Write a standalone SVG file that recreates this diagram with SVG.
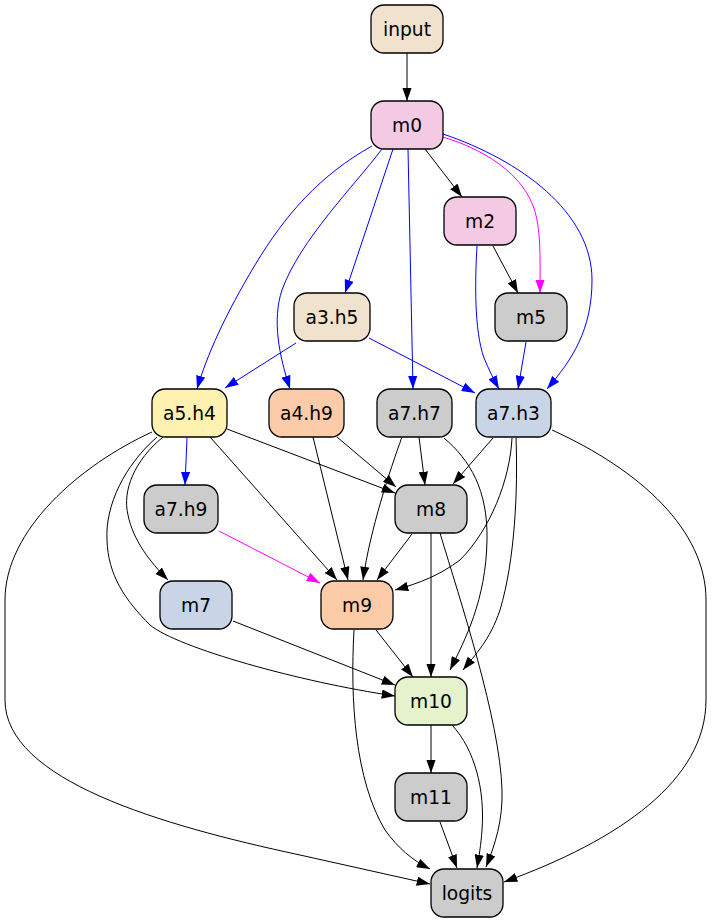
<svg xmlns="http://www.w3.org/2000/svg" width="712" height="923" viewBox="0 0 712 923">
<style>
.n rect{stroke:#000;stroke-width:1.3}
.n text{font-family:"DejaVu Sans",sans-serif;font-size:18.67px;text-anchor:middle;dominant-baseline:central;fill:#000}
.e path{fill:none;stroke-width:1}
.k{stroke:#000;marker-end:url(#ak)}
.b{stroke:#0000ff;marker-end:url(#ab)}
.m{stroke:#ff00ff;marker-end:url(#am)}
</style>
<defs>
<marker id="ak" viewBox="0 0 13.3 9.3" markerWidth="13.3" markerHeight="9.3" refX="13.3" refY="4.65" orient="auto" markerUnits="userSpaceOnUse"><path d="M0,0 L13.3,4.65 L0,9.3 z" fill="#000"/></marker>
<marker id="ab" viewBox="0 0 13.3 9.3" markerWidth="13.3" markerHeight="9.3" refX="13.3" refY="4.65" orient="auto" markerUnits="userSpaceOnUse"><path d="M0,0 L13.3,4.65 L0,9.3 z" fill="#0000ff"/></marker>
<marker id="am" viewBox="0 0 13.3 9.3" markerWidth="13.3" markerHeight="9.3" refX="13.3" refY="4.65" orient="auto" markerUnits="userSpaceOnUse"><path d="M0,0 L13.3,4.65 L0,9.3 z" fill="#ff00ff"/></marker>
</defs>
<rect width="712" height="923" fill="#fff"/>
<g id="edges" class="e">
<path class="k" d="M407,53 L407,101"/>
<path class="k" d="M425,149 L462,197"/>
<path class="m" d="M443,137 C492,152 530,180 537,220 C541,242 540,265 540,293"/>
<path class="b" d="M443,134 C520,160 592,212 592,280 C592,330 572,360 547,389"/>
<path class="b" d="M393,149 L345,293"/>
<path class="b" d="M408,149 L413,389"/>
<path class="b" d="M372,146 C320,175 285,215 255,265 C225,315 207,355 197,389"/>
<path class="b" d="M382,149 C355,185 300,240 282,290 C272,320 279,355 290,389"/>
<path class="k" d="M493,246 L518,293"/>
<path class="b" d="M477,246 C475,280 474,330 484,358 C489,370 494,380 499,389"/>
<path class="b" d="M526,342 L518,389"/>
<path class="b" d="M296,343 L225,388"/>
<path class="b" d="M369,338 L475,393"/>
<path class="b" d="M187,438 L185,485"/>
<path class="k" d="M227,429 L395,493"/>
<path class="k" d="M210,437 L337,580"/>
<path class="k" d="M163,437 C135,460 122,490 128,515 C133,540 150,562 168,580"/>
<path class="k" d="M157,437 C125,465 105,505 107,540 C108,575 125,600 150,625 C178,648 300,682 395,696"/>
<path class="k" d="M152,432 C80,465 5,530 5,600 L5,700 C5,780 160,825 300,855 L430,884"/>
<path class="k" d="M337,437 L396,487"/>
<path class="k" d="M313,437 L348,580"/>
<path class="k" d="M419,437 L425,485"/>
<path class="k" d="M402,437 C390,470 370,530 363,580"/>
<path class="k" d="M444,438 C470,460 488,490 487,540 C486,600 465,640 450,670"/>
<path class="k" d="M493,438 L453,484"/>
<path class="k" d="M512,438 C510,480 490,530 460,560 C440,575 420,583 395,590"/>
<path class="k" d="M516,438 C518,490 515,560 500,610 C490,640 475,655 463,670"/>
<path class="k" d="M552,430 C640,470 706,530 706,600 L706,700 C706,780 620,840 504,882"/>
<path class="m" d="M219,531 L320,583"/>
<path class="k" d="M412,534 L377,580"/>
<path class="k" d="M431,533 L431,677"/>
<path class="k" d="M440,533 C460,600 500,720 502,790 C503,820 495,845 486,867"/>
<path class="k" d="M233,621 L395,685"/>
<path class="k" d="M376,630 L413,677"/>
<path class="k" d="M354,630 C350,700 355,780 385,830 C398,848 412,860 430,869"/>
<path class="k" d="M431,725 L431,773"/>
<path class="k" d="M452,725 C475,750 485,790 482,830 C481,845 479,856 477,868"/>
<path class="k" d="M440,822 L457,868"/>
</g>
<g id="input" class="n"><rect x="371" y="5" width="72" height="48" rx="13" fill="#f0e2cc"/><text x="407" y="29">input</text></g>
<g id="m0" class="n"><rect x="371" y="101" width="72" height="48" rx="13" fill="#f4c9e4"/><text x="407" y="125">m0</text></g>
<g id="m2" class="n"><rect x="444" y="197" width="72" height="48" rx="13" fill="#f4c9e4"/><text x="480" y="221">m2</text></g>
<g id="a3h5" class="n"><rect x="294" y="293" width="76" height="48" rx="13" fill="#f0e2cc"/><text x="332" y="317">a3.h5</text></g>
<g id="m5" class="n"><rect x="495" y="293" width="72" height="48" rx="13" fill="#cccccc"/><text x="531" y="317">m5</text></g>
<g id="a5h4" class="n"><rect x="152" y="389" width="75" height="48" rx="13" fill="#fff2b0"/><text x="189.5" y="413">a5.h4</text></g>
<g id="a4h9" class="n"><rect x="269" y="389" width="75" height="48" rx="13" fill="#fccca8"/><text x="306.5" y="413">a4.h9</text></g>
<g id="a7h7" class="n"><rect x="377" y="389" width="75" height="48" rx="13" fill="#cccccc"/><text x="414.5" y="413">a7.h7</text></g>
<g id="a7h3" class="n"><rect x="476" y="389" width="75" height="48" rx="13" fill="#c9d5e7"/><text x="513.5" y="413">a7.h3</text></g>
<g id="a7h9" class="n"><rect x="144" y="485" width="74" height="48" rx="13" fill="#cccccc"/><text x="181" y="509">a7.h9</text></g>
<g id="m8" class="n"><rect x="395" y="485" width="72" height="48" rx="13" fill="#cccccc"/><text x="431" y="509">m8</text></g>
<g id="m7" class="n"><rect x="160" y="581" width="72" height="48" rx="13" fill="#c9d5e7"/><text x="196" y="605">m7</text></g>
<g id="m9" class="n"><rect x="321" y="581" width="72" height="48" rx="13" fill="#fccca8"/><text x="357" y="605">m9</text></g>
<g id="m10" class="n"><rect x="395" y="677" width="72" height="48" rx="13" fill="#e5f2cb"/><text x="431" y="701">m10</text></g>
<g id="m11" class="n"><rect x="395" y="773" width="72" height="48" rx="13" fill="#cccccc"/><text x="431" y="797">m11</text></g>
<g id="logits" class="n"><rect x="431" y="869" width="72" height="48" rx="13" fill="#cccccc"/><text x="467" y="893">logits</text></g>
</svg>
